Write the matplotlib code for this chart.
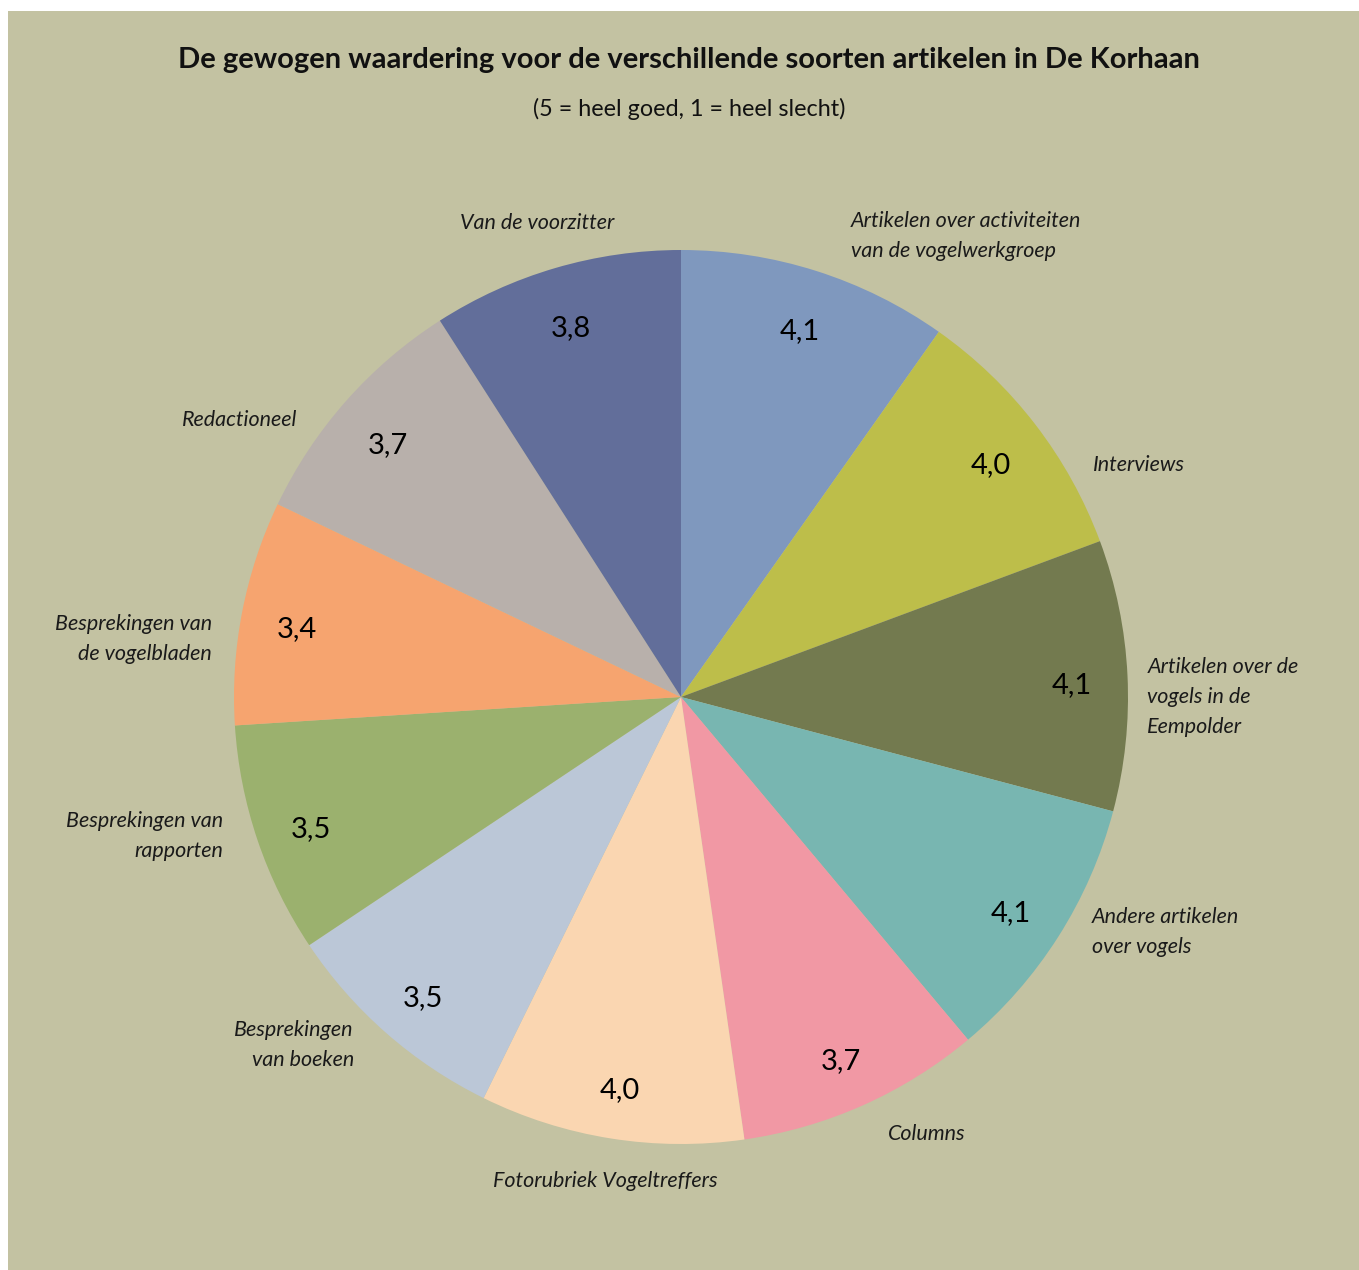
import numpy as np
import matplotlib
matplotlib.use("Agg")
import matplotlib.pyplot as plt
from matplotlib.patches import Rectangle

categories = [
    "Artikelen over activiteiten\nvan de vogelwerkgroep",
    "Interviews",
    "Artikelen over de\nvogels in de\nEempolder",
    "Andere artikelen\nover vogels",
    "Columns",
    "Fotorubriek Vogeltreffers",
    "Besprekingen\nvan boeken",
    "Besprekingen van\nrapporten",
    "Besprekingen van\nde vogelbladen",
    "Redactioneel",
    "Van de voorzitter",
]
scores = [4.1, 4.0, 4.1, 4.1, 3.7, 4.0, 3.5, 3.5, 3.4, 3.7, 3.8]
colors = ["#7F98BE", "#BDBE4A", "#737A4F", "#78B6B1", "#F198A4", "#FAD6B1",
          "#BBC7D7", "#9BB16E", "#F6A46F", "#B8B0AB", "#626E9A"]

title = "De gewogen waardering voor de verschillende soorten artikelen in De Korhaan"
subtitle = "(5 = heel goed, 1 = heel slecht)"

# where the category labels sit (in pie radii) and how they are aligned
label_xy = [(0.380, 1.031), (0.922, 0.519), (1.043, 0.0), (0.919, -0.526),
            (0.463, -0.978), (-0.170, -1.083), (-0.732, -0.779), (-1.025, -0.311),
            (-1.049, 0.130), (-0.859, 0.620), (-0.321, 1.060)]
label_ha = ['left', 'left', 'left', 'left', 'left', 'center',
            'right', 'right', 'right', 'right', 'center']

plt.rcParams['font.family'] = ['Lato', 'DejaVu Sans']

W, H = 1359, 1270
fig = plt.figure(figsize=(W / 100, H / 100), dpi=100, facecolor='white')
bg = Rectangle((8 / W, 0), 1 - 8 / W, 1 - 11 / H, transform=fig.transFigure,
               facecolor='#C3C2A2', edgecolor='none', zorder=-10)
fig.add_artist(bg)

cx, cy, r = 681, 697, 447
ax = fig.add_axes([(cx - r) / W, (H - cy - r) / H, 2 * r / W, 2 * r / H])
ax.set_facecolor('none')
ax.set_zorder(5)

total = sum(scores)


def fmt(p):
    return f"{p * total / 100:.1f}".replace('.', ',')


wedges, texts, autotexts = ax.pie(
    scores, labels=categories, colors=colors, startangle=90, counterclock=False,
    autopct=fmt, pctdistance=0.875, labeldistance=1.07,
    wedgeprops=dict(linewidth=0),
    textprops=dict(fontsize=15.5, style='italic', color='#1a1a1a', linespacing=1.65))

for t in autotexts:
    t.set_fontsize(21)
    t.set_style('normal')
    t.set_color('black')
    x, y = t.get_position()
    t.set_position((x, y - 0.015))

for t, xy, ha in zip(texts, label_xy, label_ha):
    t.set_position(xy)
    t.set_ha(ha)
    t.set_va('center')
    t.set_multialignment(ha)

ax.set_xlim(-1, 1)
ax.set_ylim(-1, 1)
ax.axis('off')

fig.text(689 / W, 1 - 60 / H, title, ha='center', va='center',
         fontsize=21, fontweight='bold', color='#111111', zorder=6)
fig.text(689 / W, 1 - 109 / H, subtitle, ha='center', va='center',
         fontsize=16.8, color='#111111', zorder=6)

fig.savefig('out.png', dpi=100, facecolor=fig.get_facecolor())
